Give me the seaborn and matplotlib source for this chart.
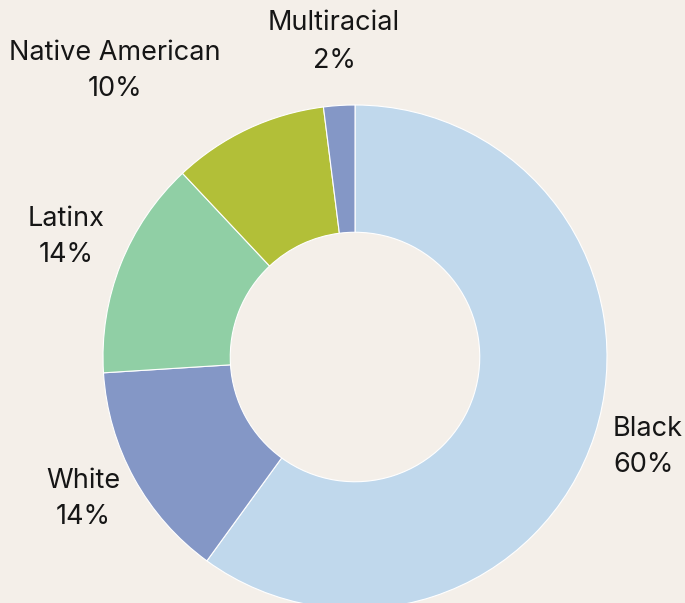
import matplotlib
matplotlib.use("Agg")
import matplotlib.pyplot as plt
import seaborn as sns

# data
groups = ["Black", "White", "Latinx", "Native American", "Multiracial"]
shares = [60, 14, 14, 10, 2]
colors = ["#c0d8ec", "#8497c6", "#90cfa5", "#b2bf38", "#8497c6"]

sns.set_theme(style="white")
plt.rcParams['font.family'] = ['Inter', 'DejaVu Sans']

bg = "#f4efe9"
fig = plt.figure(figsize=(6.85, 6.03), dpi=100, facecolor=bg)
ax = fig.add_axes([0, 0, 1, 1])
ax.set_facecolor(bg)

# pie drawn in pixel-like data units so layout matches the reference
cx, cy, r = 355, 603 - 357, 252
wedges, _ = ax.pie(shares, colors=colors, startangle=90, counterclock=False,
                   center=(cx, cy), radius=r, frame=True,
                   wedgeprops=dict(width=r * 0.505, edgecolor="white", linewidth=0.8))

#label positions (pixels from top-left)
label_pos = {
    "Black": (613, 447, "left"),
    "White": (83, 499, "center"),
    "Latinx": (66, 237, "center"),
    "Native American": (115, 71, "center"),
    "Multiracial": (334, 42, "center"),
}
for g, s in zip(groups, shares):
    x, y, ha = label_pos[g]
    ax.text(x, 603 - y, f"{g}\n{s}%", ha=ha, va="center", fontsize=19.5,
            color="#161616", linespacing=1.55, multialignment=ha)

ax.set_xlim(0, 685)
ax.set_ylim(0, 603)
ax.set_aspect("equal")
ax.axis("off")

fig.savefig("out.png", dpi=100, facecolor=bg)
